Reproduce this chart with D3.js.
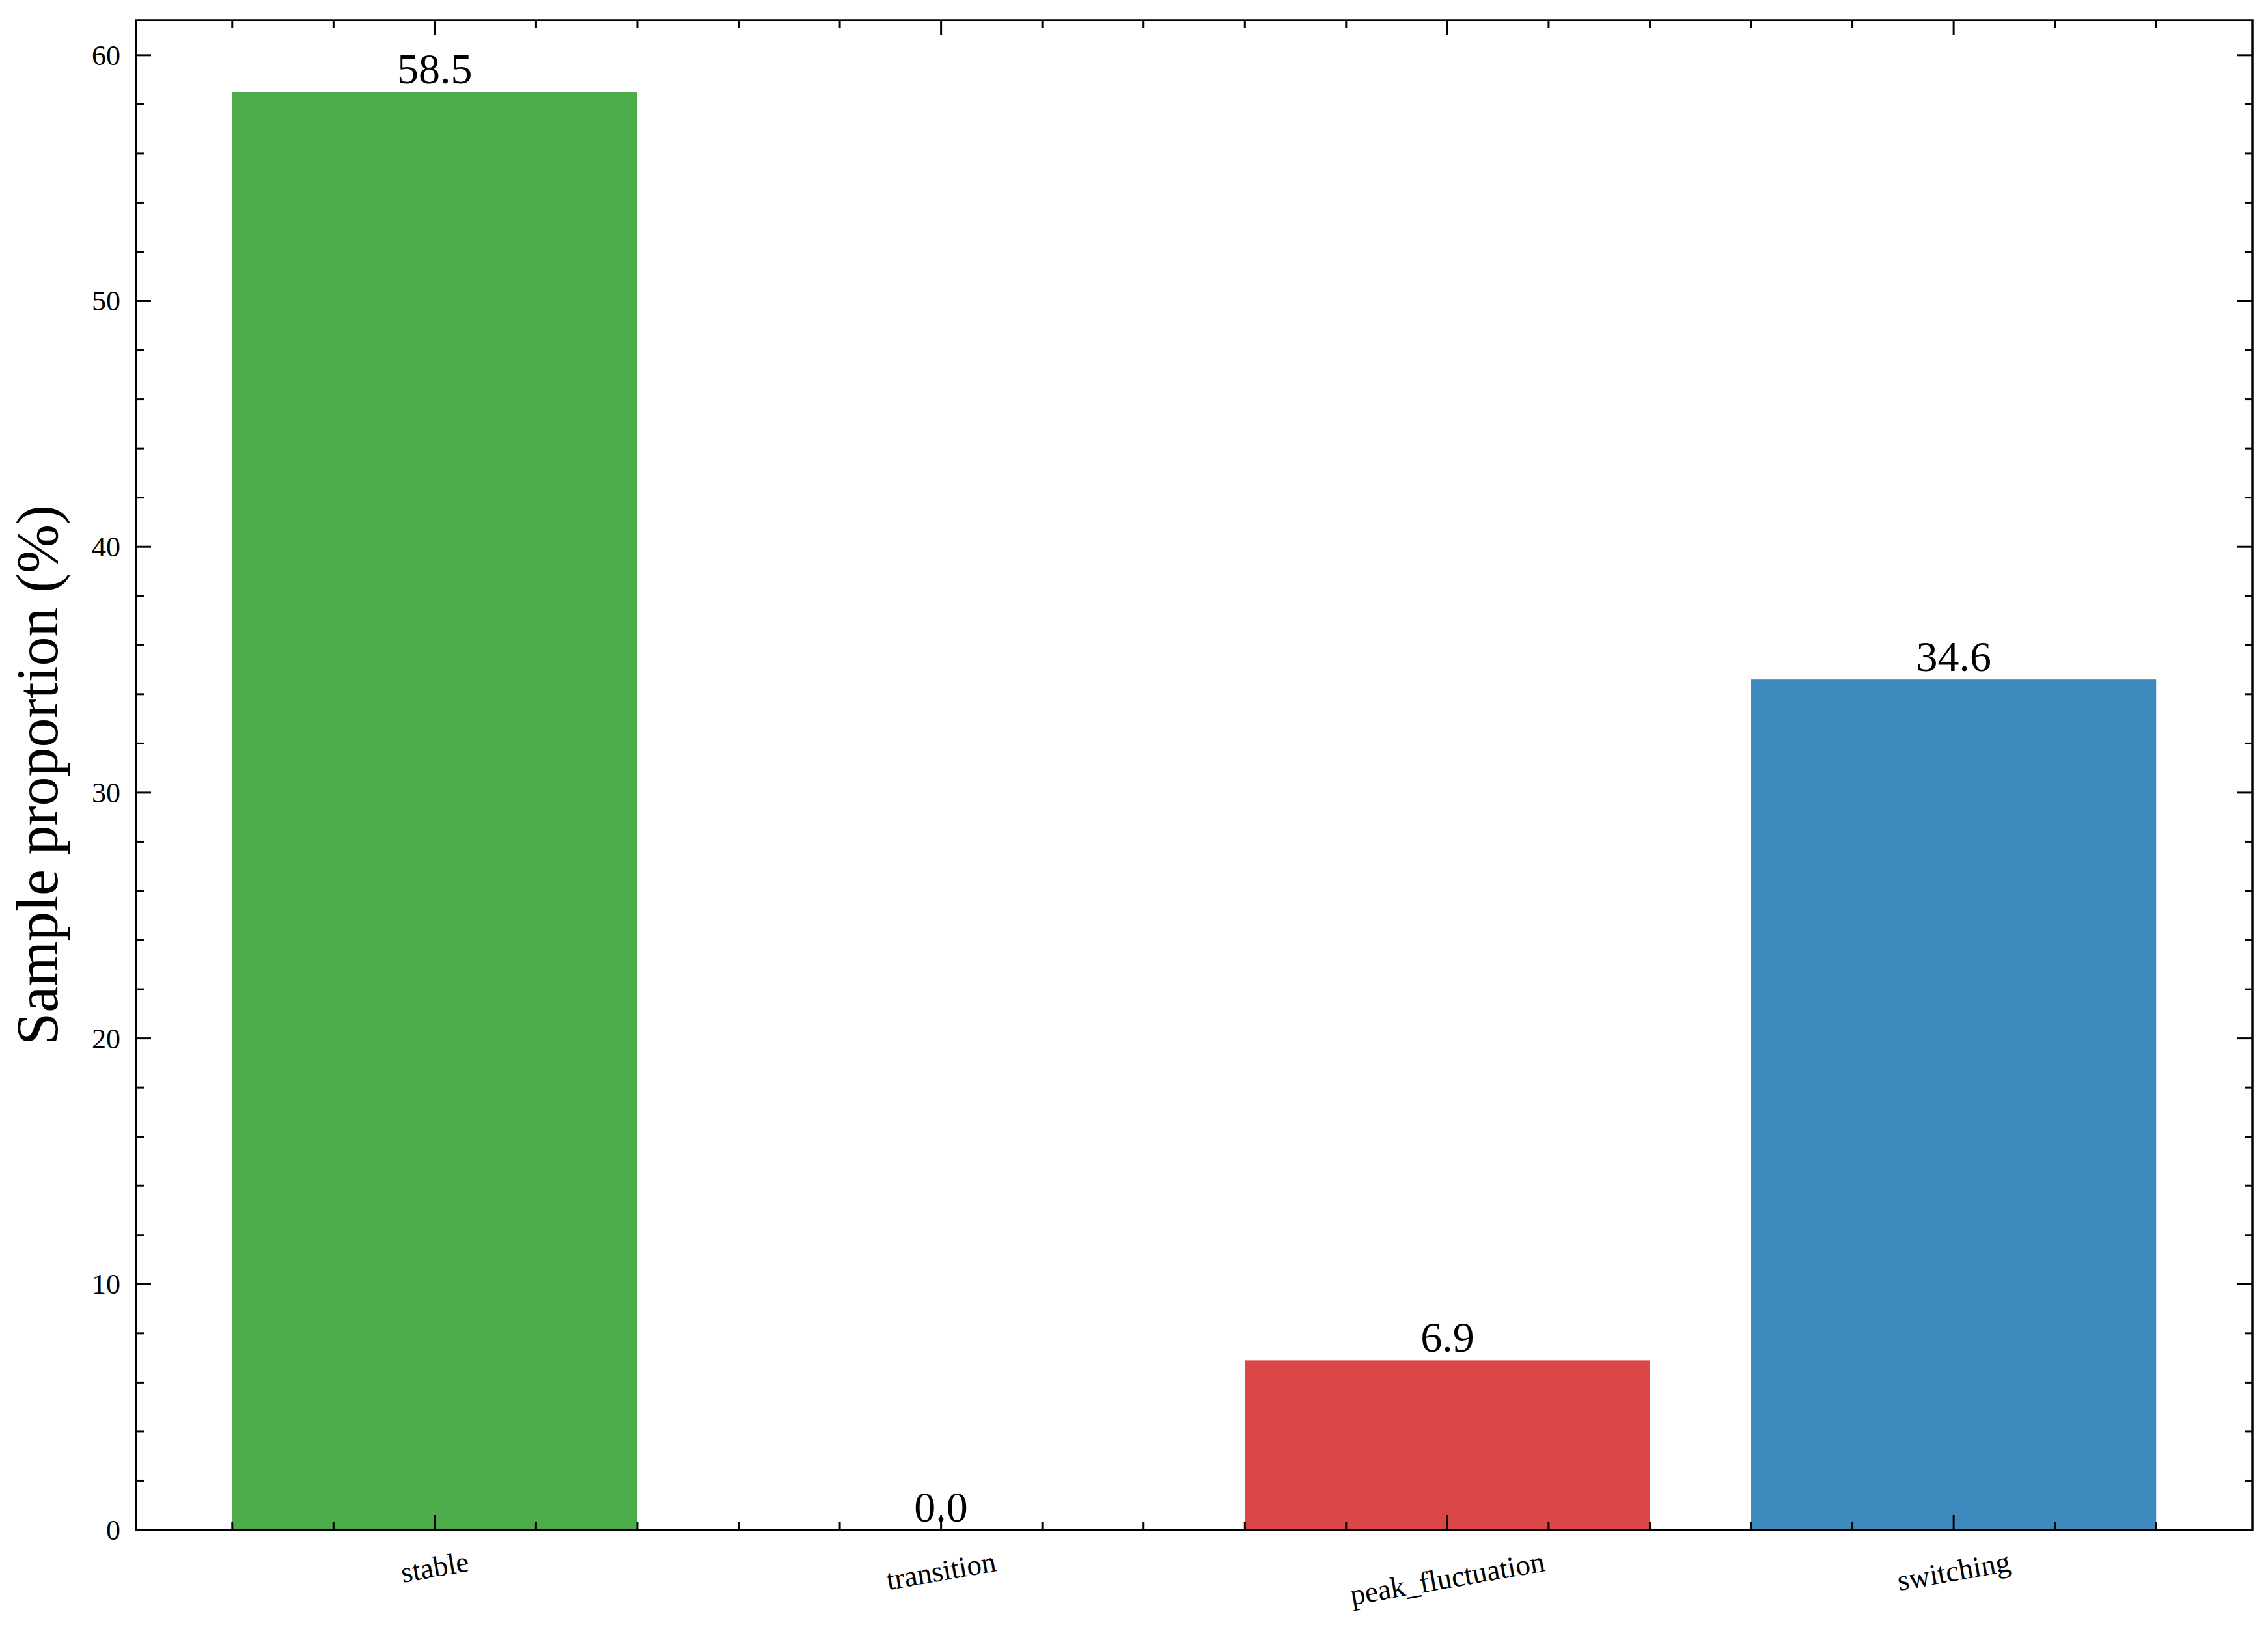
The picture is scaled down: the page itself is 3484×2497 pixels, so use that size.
<!DOCTYPE html>
<html>
<head>
<meta charset="utf-8">
<script src="https://cdn.jsdelivr.net/npm/d3@7"></script>
<style>
  html, body { margin: 0; padding: 0; background: #fff; }
  svg text { font-family: "Liberation Serif", "Times New Roman", serif; fill: #000; }
</style>
</head>
<body>
<div id="chart"></div>
<script>
// bar chart of sample proportion per regime

const categories = ['stable', 'transition', 'peak_fluctuation', 'switching'];
const proportions = [58.5, 0.0, 6.9, 34.6];
const barColors = ['#4cac4a', '#db4648', '#db4648', '#3e8abf'];
const yTicks = [0, 10, 20, 30, 40, 50, 60];

const W = 3484, H = 2497;
const margin = { left: 209, right: W - 3460, top: 31, bottom: H - 2351 };

const svg = d3.select('#chart')
  .append('svg')
  .attr('width', W)
  .attr('height', H)
  .attr('viewBox', [0, 0, W, H]);

// matplotlib style limits: bars at 0..n-1, width 0.8, 5% margins
const barW = 0.8;
const xLo = -barW / 2, xHi = categories.length - 1 + barW / 2;
const xPad = (xHi - xLo) * 0.05;
const x = d3.scaleLinear()
  .domain([xLo - xPad, xHi + xPad])
  .range([margin.left, W - margin.right]);

const yMax = d3.max(proportions) * 1.05;
const y = d3.scaleLinear()
  .domain([0, yMax])
  .range([H - margin.bottom, margin.top]);

const x0 = margin.left, x1 = W - margin.right;
const y0 = H - margin.bottom, y1 = margin.top;

// bars
svg.append('g')
  .selectAll('rect')
  .data(proportions)
  .join('rect')
  .attr('x', (d, i) => x(i - barW / 2))
  .attr('width', (d, i) => x(i + barW / 2) - x(i - barW / 2))
  .attr('y', d => y(d))
  .attr('height', d => y(0) - y(d))
  .attr('fill', (d, i) => i === 1 ? 'none' : barColors[i]);

// value labels
svg.append('g')
  .selectAll('text')
  .data(proportions)
  .join('text')
  .attr('x', (d, i) => x(i))
  .attr('y', d => y(d) - 13)
  .attr('text-anchor', 'middle')
  .attr('font-size', 66)
  .text(d => d.toFixed(1));

// ticks (inward, all four sides)
const majLen = 23, minLen = 12, tickW = 3;
const xMinor = d3.range(-0.4, xHi + 0.001, 0.2)
  .map(v => Math.round(v * 10) / 10)
  .filter(v => Math.abs(v - Math.round(v)) > 1e-6);
const xMajor = categories.map((c, i) => i);
const yMinor = d3.range(0, yMax, 2).filter(v => v % 10 !== 0);

const ticks = svg.append('g')
  .attr('stroke', '#000')
  .attr('stroke-width', tickW);

xMajor.forEach(v => {
  ticks.append('line').attr('x1', x(v)).attr('x2', x(v)).attr('y1', y0).attr('y2', y0 - majLen);
  ticks.append('line').attr('x1', x(v)).attr('x2', x(v)).attr('y1', y1).attr('y2', y1 + majLen);
});
xMinor.forEach(v => {
  ticks.append('line').attr('x1', x(v)).attr('x2', x(v)).attr('y1', y0).attr('y2', y0 - minLen);
  ticks.append('line').attr('x1', x(v)).attr('x2', x(v)).attr('y1', y1).attr('y2', y1 + minLen);
});
yTicks.forEach(v => {
  ticks.append('line').attr('y1', y(v)).attr('y2', y(v)).attr('x1', x0).attr('x2', x0 + majLen);
  ticks.append('line').attr('y1', y(v)).attr('y2', y(v)).attr('x1', x1).attr('x2', x1 - majLen);
});
yMinor.forEach(v => {
  ticks.append('line').attr('y1', y(v)).attr('y2', y(v)).attr('x1', x0).attr('x2', x0 + minLen);
  ticks.append('line').attr('y1', y(v)).attr('y2', y(v)).attr('x1', x1).attr('x2', x1 - minLen);
});

// frame
svg.append('rect')
  .attr('x', x0).attr('y', y1)
  .attr('width', x1 - x0).attr('height', y0 - y1)
  .attr('fill', 'none')
  .attr('stroke', '#000')
  .attr('stroke-width', 3.5);

// y tick labels
svg.append('g')
  .selectAll('text')
  .data(yTicks)
  .join('text')
  .attr('x', x0 - 24)
  .attr('y', d => y(d))
  .attr('dy', '0.34em')
  .attr('text-anchor', 'end')
  .attr('font-size', 44)
  .text(d => d);

// x tick labels, rotated 10deg, rotated box top aligned under the axis
const rot = 10, rad = rot * Math.PI / 180, fsX = 45, labelTop = y0 + 27;
svg.append('g')
  .selectAll('text')
  .data(categories)
  .join('text')
  .attr('text-anchor', 'middle')
  .attr('dominant-baseline', 'central')
  .attr('font-size', fsX)
  .text(d => d)
  .each(function(d, i) {
    const w = this.getComputedTextLength();
    const bh = w * Math.sin(rad) + fsX * 0.95 * Math.cos(rad);
    d3.select(this).attr('transform',
      `translate(${x(i)},${labelTop + bh / 2}) rotate(${-rot})`);
  });

// y axis title
svg.append('text')
  .attr('transform', `translate(88,${(y0 + y1) / 2}) rotate(-90)`)
  .attr('text-anchor', 'middle')
  .attr('font-size', 90)
  .text('Sample proportion (%)');
</script>
</body>
</html>
